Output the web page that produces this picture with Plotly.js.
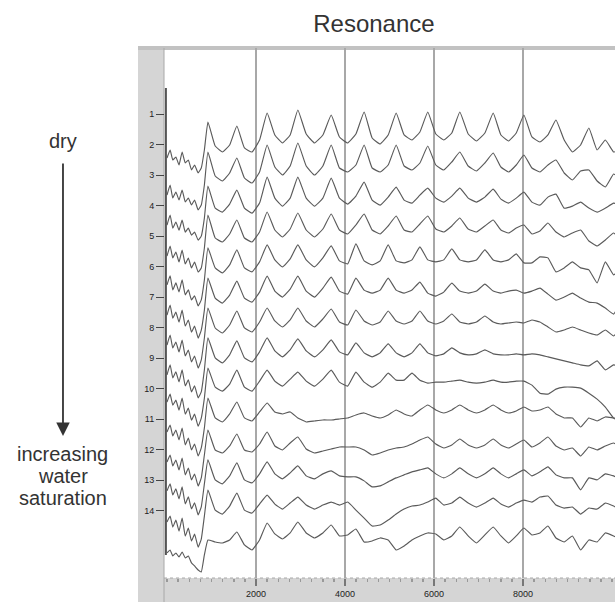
<!DOCTYPE html>
<html>
<head>
<meta charset="utf-8">
<script src="https://cdn.plot.ly/plotly-3.0.1.min.js"></script>
<style>html,body{margin:0;padding:0;background:#fff;}#chart{width:615px;height:602px;}</style>
</head>
<body>
<div id="chart"></div>
<script>
// Frequency axis (Hz), shared by all recorded traces
const freqHz = [0,70,130,200,270,340,410,480,550,620,700,770,840,
  920,1083,1245,1408, 1570,1740,1910,2080, 2250,2423,2595,2768, 2940,3128,3315,3503,
  3690,3875,4060,4245, 4430,4610,4790,4970, 5150,5328,5505,5683, 5860,6040,6220,6400,
  6580,6768,6955,7143, 7330,7503,7675,7848, 8020,8200,8380,8560, 8740,8925,9110,9295,
  9480,9665,9850,10035, 10120];

// Sample labels (dry -> increasing water saturation)
const sampleLabels = ['1','2','3','4','5','6','7','8','9','10','11','12','13','14'];
// Baseline row position of each trace
const baseRow = [1.95,3.0,4.02,5.0,5.98,6.97,7.95,8.93,9.89,10.9,11.95,12.93,13.92,14.9];

// Resonance response of each sample (arbitrary units, up = positive)
const resp1 = [-15,-7,-17,-14,-22,-9,-20,-17,-27,-22,-30,-25,-7,
 21,-3,-9,-2, 17,-5,-9,3, 30,8,0,8, 33,9,0,8, 28,6,0,9, 31,5,-1,8, 30,8,3,11, 31,9,3,10, 31,9,2,10, 30,8,2,10, 28,6,1,8, 23,3,-9,-2, 15,-7,3,-9, -8];
const resp2 = [-20,-10,-23,-17,-25,-15,-27,-23,-30,-25,-35,-30,-10,
 23,-1,-6,2, 17,-3,-8,3, 30,8,0,9, 32,9,0,9, 30,7,3,10, 30,7,3,10, 30,9,5,12, 29,10,5,13, 23,9,4,12, 22,8,3,10, 20,7,3,10, 15,2,-5,4, 5,-6,-12,1, -1];
const resp3 = [-19,-9,-22,-16,-24,-14,-26,-22,-29,-26,-34,-30,-12,
 20,-2,-6,2, 16,-2,-7,3, 29,8,0,8, 29,8,0,8, 28,8,2,10, 24,6,1,9, 19,6,3,11, 18,8,4,10, 18,8,4,9, 17,7,3,8, 14,4,1,9, 12,-2,0,4, -2,-6,-2,3, 2];
const resp4 = [-20,-10,-22,-16,-26,-14,-28,-22,-32,-26,-36,-32,-12,
 21,-2,-6,2, 16,-2,-6,4, 24,6,-1,7, 23,6,-1,7, 22,6,2,11, 22,6,2,10, 20,6,4,12, 20,7,4,10, 18,7,4,10, 16,6,3,8, 11,2,5,13, 4,-1,3,6, -5,-10,-4,3, 0];
const resp5 = [-19,-10,-24,-17,-26,-14,-29,-24,-34,-30,-40,-34,-14,
 18,-2,-7,1, 16,-2,-6,4, 21,6,-1,7, 21,6,-1,8, 20,5,2,22, 5,1,5,21, 5,3,6,19, 6,4,6,17, 6,4,6,16, 6,4,6,12, 3,3,9,8, -6,-2,4,-2, -4,-17,4,-9, -6];
const resp6 = [-19,-9,-22,-16,-26,-14,-30,-24,-36,-30,-42,-34,-14,
 18,-2,-7,1, 15,-2,-6,4, 20,5,-1,7, 20,5,-1,8, 19,5,2,18, 6,3,6,18, 6,3,6,14, 3,0,4,13, 5,3,5,12, 5,3,5,6, 3,5,8,2, -4,-1,3,-2, -6,-7,-12,-18, -12];
const resp7 = [-19,-9,-22,-16,-26,-14,-30,-24,-36,-30,-42,-34,-12,
 18,-2,-7,1, 15,-2,-6,4, 18,5,-1,6, 18,5,-1,7, 17,4,1,16, 5,1,4,15, 5,2,5,15, 5,2,5,12, 4,2,4,10, 4,2,3,4, 3,6,4,-1, -6,-4,-1,-4, -7,-9,-4,-10, -6];
const resp8 = [-19,-9,-22,-16,-26,-14,-30,-24,-36,-30,-42,-36,-14,
 18,-2,-7,1, 15,-2,-6,4, 18,5,-1,6, 17,5,-1,6, 16,4,1,13, 3,-1,3,12, 3,-1,3,12, 3,0,2,8, 3,1,2,6, 2,1,1,2, 1,2,1,-1, -3,-5,-7,-9, -10,-5,-14,-9, -10];
const resp9 = [-17,-9,-20,-15,-25,-13,-29,-23,-35,-29,-41,-33,-13,
 17,-2,-6,1, 15,-2,-6,4, 15,4,-1,6, 13,4,-1,6, 15,3,-1,13, 3,-2,3,12, 5,5,12,5, 2,3,3,4, 5,3,2,3, 5,3,3,4, 4,0,-8,-9, -4,-2,-2,-3, -8,-14,-22,-33, -35];
const resp10 = [-16,-9,-20,-14,-24,-12,-29,-22,-34,-28,-40,-32,-12,
 18,-2,-6,2, 14,-2,-5,4, 13,4,2,4, -2,-6,-5,-4, -4,-3,-2,1, 3,0,-2,1, 6,2,0,6, 11,6,3,6, 11,6,3,6, 11,6,3,5, 9,5,6,9, 2,-2,-2,-11, -2,-5,-1,-2, -2];
const resp11 = [-14,-7,-18,-12,-22,-10,-27,-20,-32,-26,-38,-30,-7,
 18,-2,-5,2, 14,-2,-4,4, 16,2,-2,5, 11,-1,-5,-3, -1,1,1,1, -2,-7,-5,-2, 0,1,4,8, 11,4,0,3, 9,3,0,3, 9,3,0,4, 8,1,5,11, 2,-2,0,-8, 1,-2,2,5, 3];
const resp12 = [-13,-6,-17,-11,-21,-9,-26,-19,-31,-25,-37,-29,-6,
 18,-2,-6,2, 15,-2,-5,4, 16,4,-1,5, 12,2,-1,4, 7,2,1,1, -3,-9,-8,-4, 0,3,6,8, 10,4,0,4, 10,4,0,4, 10,4,0,4, 8,2,6,11, 3,0,0,-12, 0,-2,4,2, 0];
const resp13 = [-14,-8,-19,-12,-23,-10,-28,-20,-33,-26,-39,-31,-8,
 18,-2,-6,2, 15,-2,-5,4, 13,4,-1,5, 11,3,-1,3, 6,3,6,-2, -10,-18,-17,-12, -6,-1,2,3, 6,10,3,5, 11,5,1,5, 10,4,1,5, 8,6,11,12, 3,0,1,-6, 0,-1,5,2, 0];
const resp14 = [-15,-12,-18,-15,-19,-14,-20,-18,-25,-28,-32,-34,-17,
 -2,-4,-5,-2, 6,-7,-12,-2, 15,4,-1,5, 16,5,0,5, 13,2,3,9, -4,-3,0,-2, -12,-8,-2,2, 5,4,-2,2, 11,2,-5,3, 11,2,-5,2, 10,3,5,12, 0,-4,2,-12, -2,-4,5,2, 0];

const responses = [resp1,resp2,resp3,resp4,resp5,resp6,resp7,resp8,resp9,resp10,resp11,resp12,resp13,resp14];
const xTicks = [2000,4000,6000,8000];
const ROW = 30.5; // response units per row spacing

const traces = responses.map((r, i) => ({
  x: freqHz,
  y: r.map(v => baseRow[i] - v / ROW),
  type: 'scatter', mode: 'lines',
  line: {color: '#5a5a5a', width: 1.15, shape: 'spline', smoothing: 0.35},
  name: sampleLabels[i], showlegend: false, hoverinfo: 'skip'
}));

const txtFont = {family: 'Liberation Sans, Arial, sans-serif', size: 20, color: '#333'};
const layout = {
  width: 615, height: 602,
  margin: {l: 165, r: 0, t: 48, b: 24, pad: 0},
  paper_bgcolor: '#fff', plot_bgcolor: '#fff',
  title: {text: 'Resonance', font: {family: 'Liberation Sans, Arial, sans-serif', size: 24, color: '#333'},
          x: 0.608, xref: 'container', xanchor: 'center', y: 0.96, yref: 'container', yanchor: 'middle'},
  xaxis: {range: [-45, 10067], tickmode: 'array', tickvals: xTicks, ticktext: xTicks.map(String),
          showgrid: true, gridcolor: '#a8a8a8', gridwidth: 1.5, zeroline: false, showline: false,
          ticks: 'outside', ticklen: 7, tickcolor: '#777', tickwidth: 1.5,
          tickfont: {family: 'Liberation Sans, Arial, sans-serif', size: 9, color: '#222'},
          minor: {tickmode: 'linear', tick0: 0, dtick: 250, ticks: 'outside', ticklen: 3, tickcolor: '#999', showgrid: false},
          fixedrange: true},
  yaxis: {range: [16.213, -1.164], tickmode: 'array', tickvals: sampleLabels.map(Number), ticktext: sampleLabels,
          showgrid: false, zeroline: false, showline: false,
          ticks: 'outside', ticklen: 8, tickcolor: '#444', tickwidth: 1,
          tickfont: {family: 'Liberation Sans, Arial, sans-serif', size: 9, color: '#222'},
          fixedrange: true},
  shapes: [
    {type: 'rect', xref: 'paper', yref: 'paper', x0: -0.06, x1: -0.0022, y0: -0.05, y1: 1.004, fillcolor: '#d5d5d5', line: {width: 0}, layer: 'below'},
    {type: 'rect', xref: 'paper', yref: 'paper', x0: -0.0022, x1: 1.0, y0: -0.05, y1: 0, fillcolor: '#d5d5d5', line: {width: 0}, layer: 'below'},
    {type: 'rect', xref: 'paper', yref: 'paper', x0: -0.06, x1: 1.0, y0: 0.996, y1: 1.004, fillcolor: '#c2c2c2', line: {width: 0}, layer: 'below'},
    {type: 'line', xref: 'paper', yref: 'paper', x0: -0.0022, x1: -0.0022, y0: -0.05, y1: 1.0, line: {color: '#a8a8a8', width: 1}, layer: 'below'},
    {type: 'line', xref: 'paper', yref: 'paper', x0: -0.0022, x1: 1.0, y0: 0, y1: 0, line: {color: '#a8a8a8', width: 1, dash: 'dot'}, layer: 'below'},
    {type: 'line', xref: 'paper', yref: 'y', x0: 0.002, x1: 0.002, y0: 0.15, y1: 15.46, line: {color: '#555', width: 2}, layer: 'above'}
  ],
  annotations: [
    {text: 'dry', xref: 'paper', yref: 'paper', x: -0.2267, y: 0.8245, xanchor: 'center', yanchor: 'middle', showarrow: false, font: txtFont},
    {text: '', xref: 'paper', yref: 'paper', x: -0.2267, y: 0.2679, ax: 0, ay: -274, showarrow: true,
     arrowhead: 2, arrowsize: 1.5, arrowwidth: 1.8, arrowcolor: '#333'},
    {text: 'increasing', xref: 'paper', yref: 'paper', x: -0.2267, y: 0.2340, xanchor: 'center', yanchor: 'middle', showarrow: false, font: txtFont},
    {text: 'water', xref: 'paper', yref: 'paper', x: -0.2267, y: 0.1925, xanchor: 'center', yanchor: 'middle', showarrow: false, font: txtFont},
    {text: 'saturation', xref: 'paper', yref: 'paper', x: -0.2267, y: 0.1509, xanchor: 'center', yanchor: 'middle', showarrow: false, font: txtFont}
  ]
};

Plotly.newPlot('chart', traces, layout, {displayModeBar: false, staticPlot: true});
</script>
</body>
</html>
